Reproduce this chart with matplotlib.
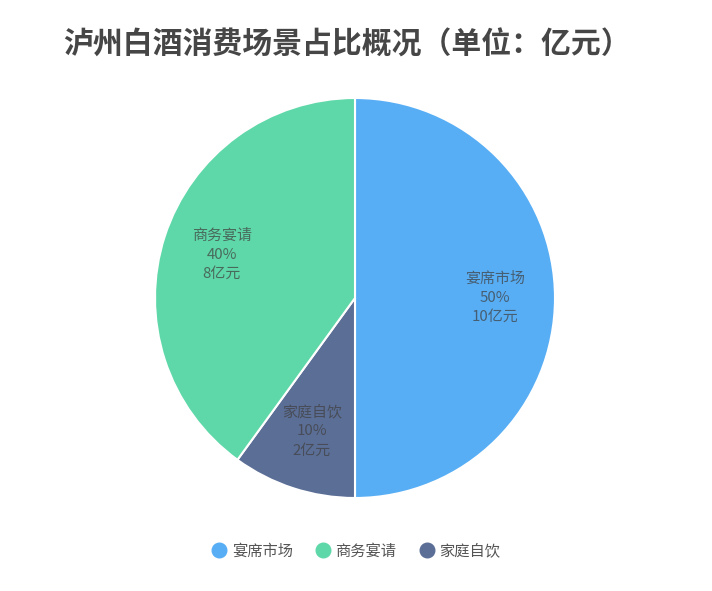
import matplotlib
matplotlib.use("Agg")
import matplotlib.pyplot as plt
from matplotlib.lines import Line2D

plt.rcParams['font.family'] = ['Noto Sans CJK SC', 'DejaVu Sans']

title = "泸州白酒消费场景占比概况（单位：亿元）"
# drawing order (clockwise from top)
categories = ["宴席市场", "家庭自饮", "商务宴请"]
values = [10, 2, 8]
colors = ["#58aef5", "#5b6e96", "#5fd8a9"]
legend_order = ["宴席市场", "商务宴请", "家庭自饮"]
unit = "亿元"

fig = plt.figure(figsize=(7.12, 5.91), dpi=100)
W, H = 712, 591
cx, cy, r = 355, 298, 200
ax = fig.add_axes([(cx - r) / W, (H - cy - r) / H, 2 * r / W, 2 * r / H])

total = sum(values)
labels = [f"{c}\n{v / total * 100:.0f}%\n{v:g}{unit}" for c, v in zip(categories, values)]

wedges, texts = ax.pie(values, colors=colors, startangle=90, counterclock=False,
                       labels=labels, labeldistance=0.7,
                       wedgeprops=dict(edgecolor="white", linewidth=1.5),
                       textprops=dict(fontsize=10.8, color="#404040", alpha=0.72,
                                      ha="center", va="center", linespacing=1.45))
ax.set_xlim(-1, 1)
ax.set_ylim(-1, 1)
ax.set_aspect("equal")
ax.axis("off")

fig.text(63 / W, 1 - 45 / H, title, fontsize=21.5, fontweight="bold",
         color="#464646", ha="left", va="center")

cmap = dict(zip(categories, colors))
handles = [Line2D([0], [0], marker="o", linestyle="none", markersize=10.5,
                  markerfacecolor=cmap[c], markeredgecolor=cmap[c]) for c in legend_order]
fig.legend(handles, legend_order, loc="center", bbox_to_anchor=(356 / W, 1 - 551 / H),
           ncol=3, frameon=False, fontsize=11, handletextpad=0.3, columnspacing=1.5,
           handlelength=1.0, labelcolor="#555555")

fig.savefig("out.png", dpi=100)
